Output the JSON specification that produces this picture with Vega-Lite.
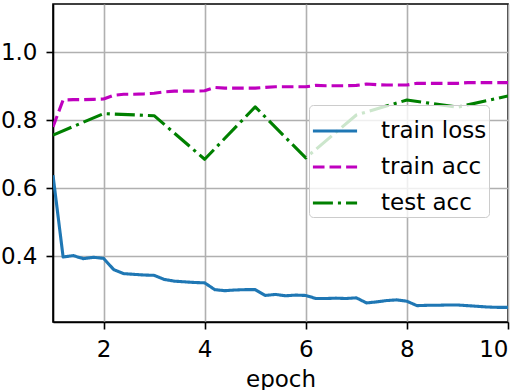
{
  "$schema": "https://vega.github.io/schema/vega-lite/v6.json",
  "width": 455,
  "height": 318,
  "autosize": {"type": "none"},
  "padding": {"left": 53, "top": 4, "right": 15, "bottom": 68},
  "background": "white",
  "config": {
    "font": "DejaVu Sans",
    "view": {"stroke": "black", "strokeWidth": 1.6},
    "axis": {
      "labelFont": "DejaVu Sans",
      "labelFontSize": 23,
      "labelColor": "black",
      "titleFont": "DejaVu Sans",
      "titleFontSize": 23,
      "titleFontWeight": "normal",
      "titleColor": "black",
      "domainColor": "black",
      "domainWidth": 1.6,
      "tickColor": "black",
      "tickWidth": 1.6,
      "tickSize": 7,
      "labelPadding": 9,
      "gridColor": "#b0b0b0",
      "gridWidth": 1.6,
      "gridOpacity": 1
    },
    "legend": {
      "orient": "none",
      "legendX": 256,
      "legendY": 101,
      "fillColor": "rgba(255,255,255,0.8)",
      "strokeColor": "#cccccc",
      "cornerRadius": 4,
      "padding": 2,
      "rowPadding": 0,
      "symbolType": "stroke",
      "symbolSize": 1950,
      "symbolStrokeWidth": 3.1,
      "labelFont": "DejaVu Sans",
      "labelFontSize": 23,
      "labelColor": "black",
      "labelOffset": 22,
      "labelLimit": 300
    }
  },
  "data": {
    "values": [
      {"epoch": 1.0, "value": 0.638, "series": "train loss"},
      {"epoch": 1.2, "value": 0.398, "series": "train loss"},
      {"epoch": 1.4, "value": 0.402, "series": "train loss"},
      {"epoch": 1.6, "value": 0.393, "series": "train loss"},
      {"epoch": 1.8, "value": 0.397, "series": "train loss"},
      {"epoch": 2.0, "value": 0.394, "series": "train loss"},
      {"epoch": 2.2, "value": 0.361, "series": "train loss"},
      {"epoch": 2.4, "value": 0.349, "series": "train loss"},
      {"epoch": 2.6, "value": 0.347, "series": "train loss"},
      {"epoch": 2.8, "value": 0.345, "series": "train loss"},
      {"epoch": 3.0, "value": 0.344, "series": "train loss"},
      {"epoch": 3.2, "value": 0.332, "series": "train loss"},
      {"epoch": 3.4, "value": 0.327, "series": "train loss"},
      {"epoch": 3.6, "value": 0.325, "series": "train loss"},
      {"epoch": 3.8, "value": 0.323, "series": "train loss"},
      {"epoch": 4.0, "value": 0.322, "series": "train loss"},
      {"epoch": 4.2, "value": 0.302, "series": "train loss"},
      {"epoch": 4.4, "value": 0.299, "series": "train loss"},
      {"epoch": 4.6, "value": 0.301, "series": "train loss"},
      {"epoch": 4.8, "value": 0.302, "series": "train loss"},
      {"epoch": 5.0, "value": 0.302, "series": "train loss"},
      {"epoch": 5.2, "value": 0.285, "series": "train loss"},
      {"epoch": 5.4, "value": 0.288, "series": "train loss"},
      {"epoch": 5.6, "value": 0.284, "series": "train loss"},
      {"epoch": 5.8, "value": 0.286, "series": "train loss"},
      {"epoch": 6.0, "value": 0.285, "series": "train loss"},
      {"epoch": 6.2, "value": 0.276, "series": "train loss"},
      {"epoch": 6.4, "value": 0.276, "series": "train loss"},
      {"epoch": 6.6, "value": 0.277, "series": "train loss"},
      {"epoch": 6.8, "value": 0.276, "series": "train loss"},
      {"epoch": 7.0, "value": 0.278, "series": "train loss"},
      {"epoch": 7.2, "value": 0.263, "series": "train loss"},
      {"epoch": 7.4, "value": 0.266, "series": "train loss"},
      {"epoch": 7.6, "value": 0.270, "series": "train loss"},
      {"epoch": 7.8, "value": 0.272, "series": "train loss"},
      {"epoch": 8.0, "value": 0.268, "series": "train loss"},
      {"epoch": 8.2, "value": 0.255, "series": "train loss"},
      {"epoch": 8.4, "value": 0.256, "series": "train loss"},
      {"epoch": 8.6, "value": 0.256, "series": "train loss"},
      {"epoch": 8.8, "value": 0.257, "series": "train loss"},
      {"epoch": 9.0, "value": 0.257, "series": "train loss"},
      {"epoch": 9.2, "value": 0.255, "series": "train loss"},
      {"epoch": 9.4, "value": 0.253, "series": "train loss"},
      {"epoch": 9.6, "value": 0.251, "series": "train loss"},
      {"epoch": 9.8, "value": 0.250, "series": "train loss"},
      {"epoch": 10.0, "value": 0.250, "series": "train loss"},
      {"epoch": 1.0, "value": 0.780, "series": "train acc"},
      {"epoch": 1.2, "value": 0.859, "series": "train acc"},
      {"epoch": 1.4, "value": 0.860, "series": "train acc"},
      {"epoch": 1.6, "value": 0.860, "series": "train acc"},
      {"epoch": 1.8, "value": 0.861, "series": "train acc"},
      {"epoch": 2.0, "value": 0.862, "series": "train acc"},
      {"epoch": 2.2, "value": 0.873, "series": "train acc"},
      {"epoch": 2.4, "value": 0.876, "series": "train acc"},
      {"epoch": 2.6, "value": 0.876, "series": "train acc"},
      {"epoch": 2.8, "value": 0.877, "series": "train acc"},
      {"epoch": 3.0, "value": 0.879, "series": "train acc"},
      {"epoch": 3.2, "value": 0.883, "series": "train acc"},
      {"epoch": 3.4, "value": 0.885, "series": "train acc"},
      {"epoch": 3.6, "value": 0.885, "series": "train acc"},
      {"epoch": 3.8, "value": 0.885, "series": "train acc"},
      {"epoch": 4.0, "value": 0.886, "series": "train acc"},
      {"epoch": 4.2, "value": 0.896, "series": "train acc"},
      {"epoch": 4.4, "value": 0.894, "series": "train acc"},
      {"epoch": 4.6, "value": 0.894, "series": "train acc"},
      {"epoch": 4.8, "value": 0.894, "series": "train acc"},
      {"epoch": 5.0, "value": 0.894, "series": "train acc"},
      {"epoch": 5.2, "value": 0.896, "series": "train acc"},
      {"epoch": 5.4, "value": 0.898, "series": "train acc"},
      {"epoch": 5.6, "value": 0.898, "series": "train acc"},
      {"epoch": 5.8, "value": 0.898, "series": "train acc"},
      {"epoch": 6.0, "value": 0.898, "series": "train acc"},
      {"epoch": 6.2, "value": 0.902, "series": "train acc"},
      {"epoch": 6.4, "value": 0.901, "series": "train acc"},
      {"epoch": 6.6, "value": 0.901, "series": "train acc"},
      {"epoch": 6.8, "value": 0.901, "series": "train acc"},
      {"epoch": 7.0, "value": 0.902, "series": "train acc"},
      {"epoch": 7.2, "value": 0.906, "series": "train acc"},
      {"epoch": 7.4, "value": 0.904, "series": "train acc"},
      {"epoch": 7.6, "value": 0.903, "series": "train acc"},
      {"epoch": 7.8, "value": 0.903, "series": "train acc"},
      {"epoch": 8.0, "value": 0.903, "series": "train acc"},
      {"epoch": 8.2, "value": 0.908, "series": "train acc"},
      {"epoch": 8.4, "value": 0.908, "series": "train acc"},
      {"epoch": 8.6, "value": 0.908, "series": "train acc"},
      {"epoch": 8.8, "value": 0.908, "series": "train acc"},
      {"epoch": 9.0, "value": 0.908, "series": "train acc"},
      {"epoch": 9.2, "value": 0.910, "series": "train acc"},
      {"epoch": 9.4, "value": 0.910, "series": "train acc"},
      {"epoch": 9.6, "value": 0.910, "series": "train acc"},
      {"epoch": 9.8, "value": 0.910, "series": "train acc"},
      {"epoch": 10.0, "value": 0.910, "series": "train acc"},
      {"epoch": 1, "value": 0.756, "series": "test acc"},
      {"epoch": 2, "value": 0.819, "series": "test acc"},
      {"epoch": 3, "value": 0.813, "series": "test acc"},
      {"epoch": 4, "value": 0.685, "series": "test acc"},
      {"epoch": 5, "value": 0.839, "series": "test acc"},
      {"epoch": 6, "value": 0.689, "series": "test acc"},
      {"epoch": 7, "value": 0.815, "series": "test acc"},
      {"epoch": 8, "value": 0.859, "series": "test acc"},
      {"epoch": 9, "value": 0.838, "series": "test acc"},
      {"epoch": 10, "value": 0.871, "series": "test acc"}
    ]
  },
  "mark": {"type": "line", "strokeWidth": 3.1, "clip": true, "strokeCap": "butt", "strokeJoin": "round"},
  "encoding": {
    "x": {
      "field": "epoch",
      "type": "quantitative",
      "scale": {"domain": [1, 10], "nice": false, "zero": false},
      "axis": {"values": [2, 4, 6, 8, 10], "format": "d", "title": "epoch", "titlePadding": 7, "grid": true}
    },
    "y": {
      "field": "value",
      "type": "quantitative",
      "scale": {"domain": [0.207, 1.141], "nice": false, "zero": false},
      "axis": {"values": [0.4, 0.6, 0.8, 1.0], "format": ".1f", "title": null, "grid": true}
    },
    "color": {
      "field": "series",
      "type": "nominal",
      "sort": ["train loss", "train acc", "test acc"],
      "scale": {"domain": ["train loss", "train acc", "test acc"], "range": ["#1f77b4", "#bf00bf", "#008000"]},
      "legend": {"title": null}
    },
    "strokeDash": {
      "field": "series",
      "type": "nominal",
      "sort": ["train loss", "train acc", "test acc"],
      "scale": {"domain": ["train loss", "train acc", "test acc"], "range": [[1, 0], [11.6, 5], [20, 5, 3.1, 5]]},
      "legend": {"title": null}
    }
  }
}
